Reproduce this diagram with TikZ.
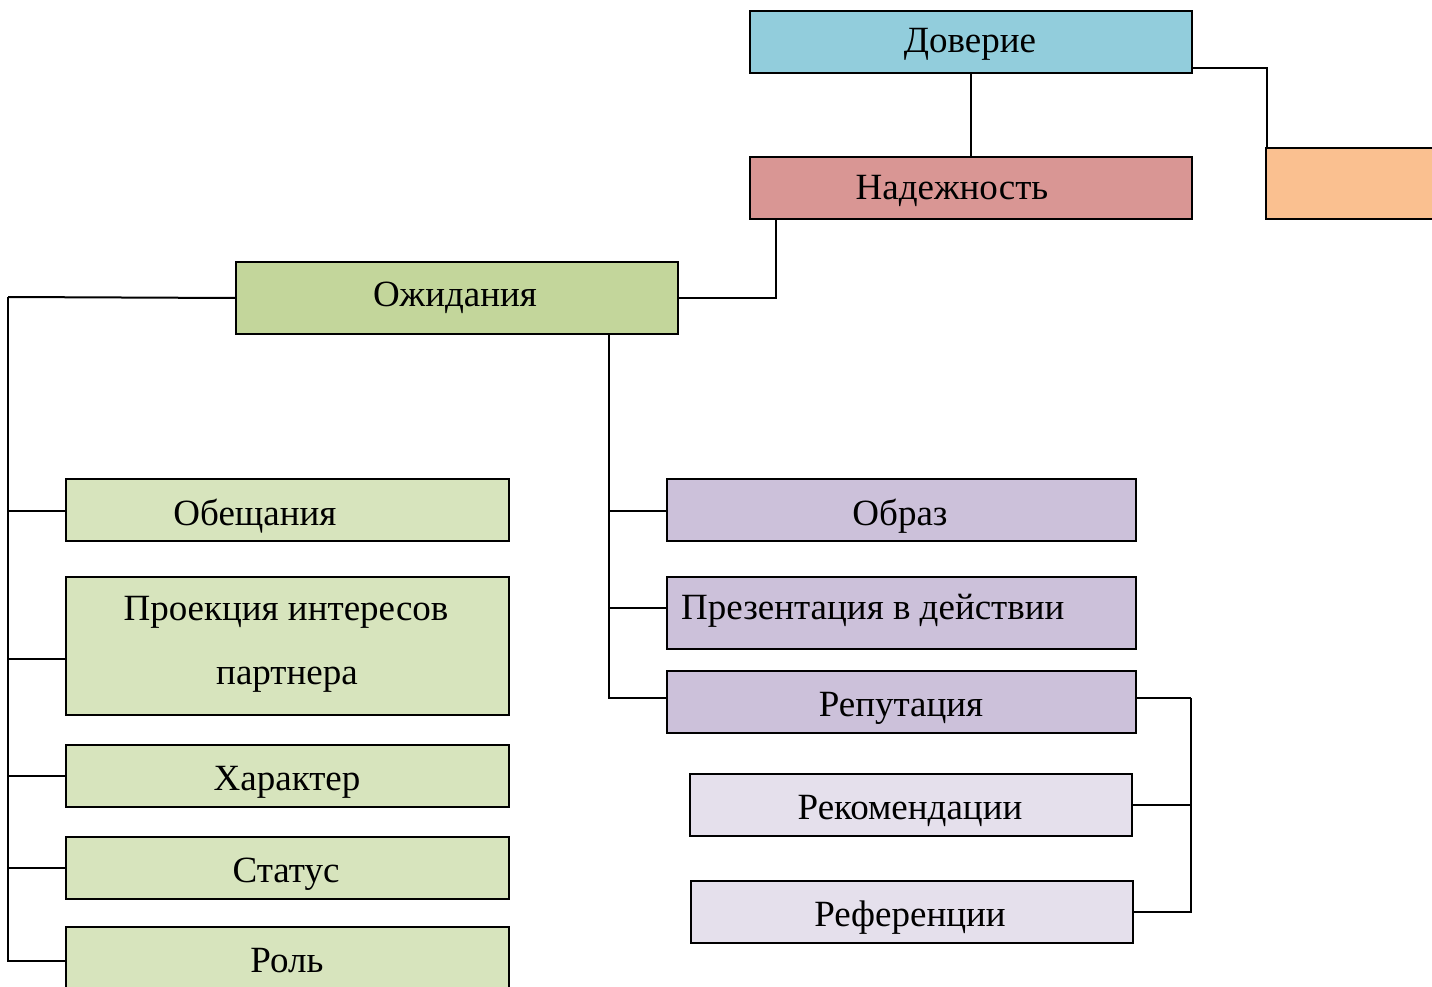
\documentclass[tikz,border=0pt]{standalone}
\usepackage{fontspec}
\setmainfont{Liberation Serif}
\definecolor{cdov}{HTML}{92CDDC}
\definecolor{cnad}{HTML}{D99694}
\definecolor{cora}{HTML}{FAC090}
\definecolor{cozh}{HTML}{C3D69B}
\definecolor{cgr}{HTML}{D7E4BD}
\definecolor{cpu}{HTML}{CCC1DA}
\definecolor{clp}{HTML}{E5E0EC}
\tikzset{
  box/.style={draw=black, line width=2pt, rectangle, inner sep=0pt, anchor=north west},
  txt/.style={font=\fontsize{37}{44}\selectfont, inner sep=0pt, anchor=base},
  conn/.style={draw=black, line width=2pt}
}
\begin{document}
\begin{tikzpicture}[x=1pt,y=-1pt]
\clip (0,0) rectangle (1432,987);
\fill[white] (0,0) rectangle (1432,987);
% boxes
\node[box, fill=cdov, minimum width=442pt, minimum height=62pt] (dov) at (749,10) {};
\node[box, fill=cnad, minimum width=442pt, minimum height=62pt] (nad) at (749,156) {};
\node[box, fill=cora, minimum width=220pt, minimum height=71pt] (ora) at (1265,147) {};
\node[box, fill=cozh, minimum width=442pt, minimum height=72pt] (ozh) at (235,261) {};
\node[box, fill=cgr, minimum width=443pt, minimum height=62pt] (obe) at (65,478) {};
\node[box, fill=cgr, minimum width=443pt, minimum height=138pt] (pro) at (65,576) {};
\node[box, fill=cgr, minimum width=443pt, minimum height=62pt] (har) at (65,744) {};
\node[box, fill=cgr, minimum width=443pt, minimum height=62pt] (sta) at (65,836) {};
\node[box, fill=cgr, minimum width=443pt, minimum height=64pt] (rol) at (65,926) {};
\node[box, fill=cpu, minimum width=469pt, minimum height=62pt] (obr) at (666,478) {};
\node[box, fill=cpu, minimum width=469pt, minimum height=72pt] (pre) at (666,576) {};
\node[box, fill=cpu, minimum width=469pt, minimum height=62pt] (rep) at (666,670) {};
\node[box, fill=clp, minimum width=442pt, minimum height=62pt] (rek) at (689,773) {};
\node[box, fill=clp, minimum width=442pt, minimum height=62pt] (ref) at (690,880) {};
% texts
\node[txt] (tdov) at (970,53) {Доверие};
\node[txt] (tnad) at (952,200) {Надежность};
\node[txt] (tozh) at (455,306) {Ожидания};
\node[txt] (tobe) at (255,525) {Обещания};
\node[txt] (tpro1) at (286,620) {Проекция интересов};
\node[txt] (tpro2) at (287,684) {партнера};
\node[txt] (thar) at (287,790) {Характер};
\node[txt] (tsta) at (286,882) {Статус};
\node[txt] (trol) at (287,972) {Роль};
\node[txt] (tobr) at (900,525) {Образ};
\node[txt, anchor=base west] (tpre) at (681,619) {Презентация в действии};
\node[txt] (trep) at (901,716) {Репутация};
\node[txt] (trek) at (910,819) {Рекомендации};
\node[txt] (tref) at (910,926) {Референции};
% connectors
\draw[conn] (dov.south) -- (nad.north);
\draw[conn] ([yshift=-58pt]dov.north east) -| ([xshift=2pt]ora.north west);
\draw[conn] (ozh.east) -| ([xshift=27pt]nad.south west);
\coordinate (lb) at (8,297);
\draw[conn] (ozh.west) -- (lb);
\draw[conn] (lb) |- ([yshift=-1pt]obe.west);
\draw[conn] (lb) |- ([yshift=-13pt]pro.west);
\draw[conn] (lb) |- (har.west);
\draw[conn] (lb) |- (sta.west);
\draw[conn] (lb) |- ([yshift=-2pt]rol.west);
\coordinate (rb) at (609,333);
\draw[conn] (rb) |- ([yshift=-1pt]obr.west);
\draw[conn] (rb) |- ([yshift=5pt]pre.west);
\draw[conn] (rb) |- ([yshift=4pt]rep.west);
\coordinate (rr) at (1191,698);
\draw[conn] ([yshift=4pt]rep.east) -- (rr);
\draw[conn] (rr) |- (rek.east);
\draw[conn] (rr) |- (ref.east);
\end{tikzpicture}
\end{document}
